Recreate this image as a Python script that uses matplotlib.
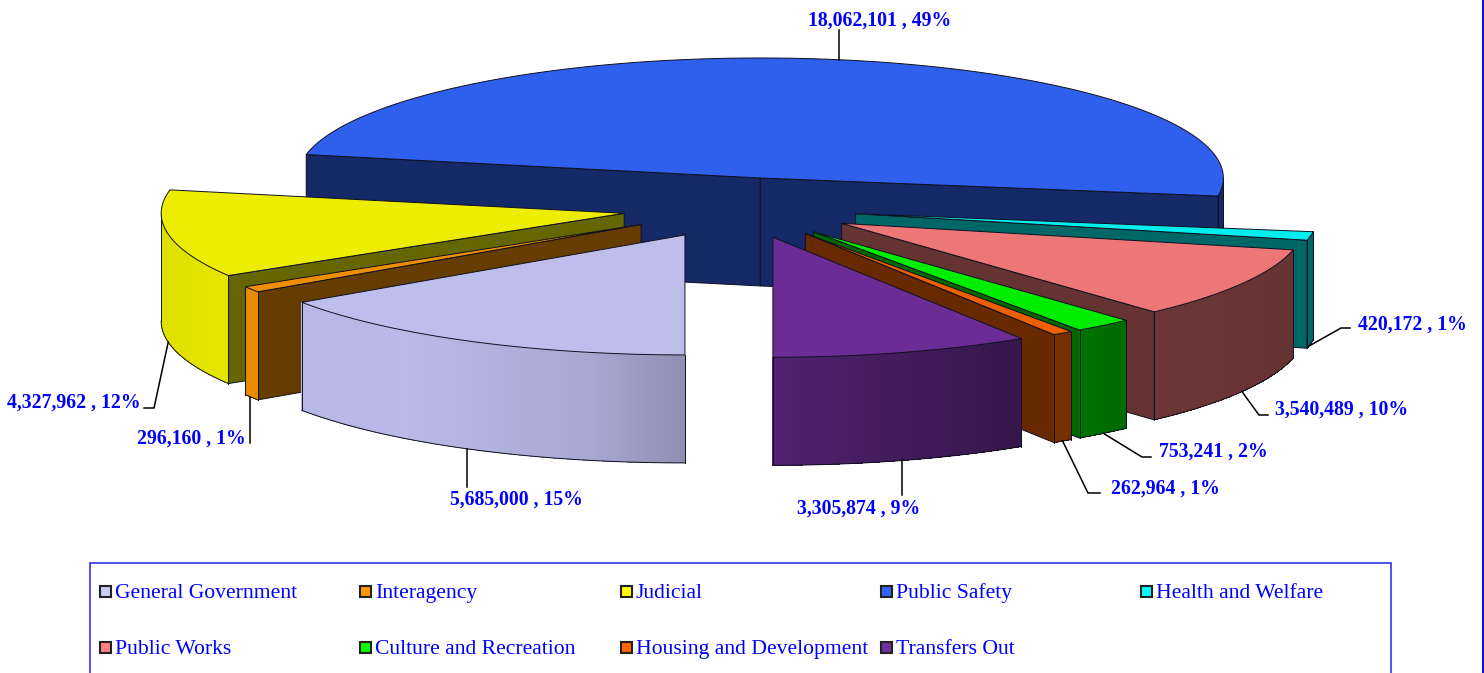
import numpy as np
import matplotlib
matplotlib.use("Agg")
import matplotlib.pyplot as plt

categories = ["General Government", "Interagency", "Judicial", "Public Safety", "Health and Welfare",
              "Public Works", "Culture and Recreation", "Housing and Development", "Transfers Out"]
values = [5685000, 296160, 4327962, 18062101, 420172, 3540489, 753241, 262964, 3305874]
percent_labels = [15, 1, 12, 49, 1, 10, 2, 1, 9]
colors = ["#CCCCFF", "#FF9900", "#FFFF00", "#3366FF", "#00FFFF", "#FF8080", "#00FF00", "#FF6600", "#7330A0"]

# pie layout (in pixels of the axes)
CX, CY = 740, 208
RX, RY = 463, 120
DEPTH = 108
EXPLODE = 0.254
draw_order = [3, 4, 5, 6, 7, 8, 2, 1, 0]

# label layout: text anchor, horizontal alignment, leader bend points
label_layout = [
    ((516, 497), "center", [(467, 487)]),
    ((246, 436), "right", [(250, 443)]),
    ((141, 400), "right", [(154, 408), (144, 408)]),
    ((880, 18), "center", [(839, 30)]),
    ((1358, 322), "left", [(1341, 328), (1350, 328)]),
    ((1275, 407), "left", [(1259, 415), (1268, 415)]),
    ((1159, 449), "left", [(1142, 457), (1151, 457)]),
    ((1111, 486), "left", [(1088, 493), (1100, 493)]),
    ((859, 506), "center", [(902, 495)]),
]
legend_cols = [100, 360, 621, 881, 1141]
legend_rows = [591, 647]

plt.rcParams["font.family"] = ["Liberation Serif", "DejaVu Serif"]
fig = plt.figure(figsize=(14.84, 6.73), dpi=100)
ax = fig.add_axes([0, 0, 1, 1])
ax.set_xlim(0, 1484)
ax.set_ylim(673, 0)
ax.axis("off")


def rgb(c):
    return np.array(matplotlib.colors.to_rgb(c))


def rim(cx, cy, t, dz=0.0):
    t = np.radians(t)
    return cx - RX * np.sin(t), cy + RY * np.cos(t) + dz


def wall_shade(n):
    return np.interp(n, [-1, -0.85, -0.6, -0.2, 0, 0.3, 0.65, 1],
                     [0.88, 0.90, 0.91, 0.82, 0.70, 0.56, 0.42, 0.40])


fractions = np.array(values) / np.sum(values)
edges = np.concatenate([[0], np.cumsum(fractions)]) * 360
centers = []
for i in range(len(values)):
    m = np.radians((edges[i] + edges[i + 1]) / 2)
    centers.append((CX - EXPLODE * RX * np.sin(m), CY + EXPLODE * RY * np.cos(m)))

EDGE = "#101020"
z = 10
for i in draw_order:
    t0, t1 = edges[i], edges[i + 1]
    cx, cy = centers[i]
    base = rgb(colors[i])
    top_c = base * 0.93
    dark = base * 0.40

    # radial cut faces, only those turned to the viewer
    for t, visible in ((t0, np.sin(np.radians(t0)) > 1e-6), (t1, np.sin(np.radians(t1)) < -1e-6)):
        if visible:
            x, y = rim(cx, cy, t)
            ax.fill([cx, x, x, cx], [cy, y, y + DEPTH, cy + DEPTH], facecolor=dark,
                    edgecolor=EDGE, lw=0.7, joinstyle="miter", zorder=z)
    z += 1

    # outer wall: only the part of the rim facing the viewer
    for lo, hi in ((0, 90), (270, 360)):
        a, b = max(t0, lo), min(t1, hi)
        if b <= a:
            continue
        ts = np.linspace(a, b, max(int((b - a) * 3), 2) + 1)
        for j, (s0, s1) in enumerate(zip(ts[:-1], ts[1:])):
            s2 = ts[min(j + 2, len(ts) - 1)]  # strips overlap so no seam shows
            xa, ya = rim(cx, cy, s0)
            xm, ym = rim(cx, cy, s1)
            xb, yb = rim(cx, cy, s2)
            n = -np.sin(np.radians((s0 + s1) / 2))
            c = np.clip(base * wall_shade(n), 0, 1)
            ax.fill([xa, xm, xb, xb, xm, xa], [ya, ym, yb, yb + DEPTH, ym + DEPTH, ya + DEPTH],
                    facecolor=c, edgecolor="none", lw=0, antialiased=False, zorder=z)
            z += 0.001
        z += 1
        xs, ys = rim(cx, cy, ts)
        ax.plot(xs, ys + DEPTH, color=EDGE, lw=0.7, zorder=z)
        ax.plot([xs[0], xs[0]], [ys[0], ys[0] + DEPTH], color=EDGE, lw=0.7, zorder=z)
        ax.plot([xs[-1], xs[-1]], [ys[-1], ys[-1] + DEPTH], color=EDGE, lw=0.7, zorder=z)
        z += 1

    # top
    ts = np.linspace(t0, t1, max(int(t1 - t0) * 3, 4))
    xs, ys = rim(cx, cy, ts)
    ax.fill(np.r_[cx, xs], np.r_[cy, ys], facecolor=top_c, edgecolor=EDGE, lw=0.7, joinstyle="miter", zorder=z)
    z += 1

# labels with leader lines
for i, (anchor, ha, bends) in enumerate(label_layout):
    m = (edges[i] + edges[i + 1]) / 2
    cx, cy = centers[i]
    sx, sy = rim(cx, cy, m, 0 if np.cos(np.radians(m)) < 0 else DEPTH)
    if i == 4:
        sx, sy = rim(cx, cy, edges[i + 1] - 1, DEPTH)
    px = [sx] + [b[0] for b in bends]
    py = [sy] + [b[1] for b in bends]
    if len(bends) == 1:
        px[0] = bends[0][0]
    ax.plot(px, py, color="black", lw=1.1, solid_joinstyle="miter", zorder=z + 1)
    ax.text(anchor[0], anchor[1], f"{values[i]:,} , {percent_labels[i]}%", color="#0000FF", fontsize=14.2,
            fontweight="bold", ha=ha, va="center_baseline", zorder=z + 2)

# legend frame (runs past the lower edge of the figure)
ax.plot([90, 90, 1391, 1391], [680, 563, 563, 680], color="#2222EE", lw=1.1, solid_joinstyle="miter")
for i, name in enumerate(categories):
    x = legend_cols[i % 5]
    y = legend_rows[i // 5]
    ax.add_patch(plt.Rectangle((x, y - 5), 11, 11, facecolor=colors[i], edgecolor="#222222", lw=1.5))
    ax.text(x + 15, y, name, color="#0000FF", fontsize=15.6, ha="left", va="center_baseline")

# frame line at the right edge
ax.plot([1482.5, 1482.5], [0, 673], color="#1010E0", lw=2.2)

fig.savefig("out.png", dpi=100, facecolor="white")
